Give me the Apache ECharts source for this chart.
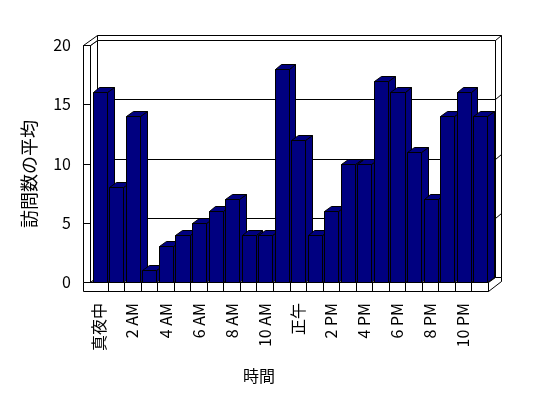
<!DOCTYPE html>
<html><head><meta charset="utf-8">
<script src="https://cdn.jsdelivr.net/npm/echarts@6/dist/echarts.min.js"></script>
<style>html,body{margin:0;padding:0;background:#fff}#c{width:548px;height:398px}</style>
</head><body><div id="c"></div>
<script>
const categories = ['真夜中','1 AM','2 AM','3 AM','4 AM','5 AM','6 AM','7 AM','8 AM','9 AM','10 AM','11 AM','正午','1 PM','2 PM','3 PM','4 PM','5 PM','6 PM','7 PM','8 PM','9 PM','10 PM','11 PM'];
const visits = [16,8,14,1,3,4,5,6,7,4,4,18,12,4,6,10,10,17,16,11,7,14,16,14];
const yTicks = [0,5,10,15,20];
const yAxisTitle = '訪問数の平均';
const xAxisTitle = '時間';

const DX = 6.7, DY = -5;          // one depth unit of the 3D look
const SLAB = 8.5;                 // floor slab thickness
const BAR_RATIO = 0.85;
const FONT = "'Noto Sans CJK JP', 'Noto Sans', sans-serif";
const BAR_COLOR = '#000080';
const px = v => Math.round(v) + 0.5;
const pt = (x, y) => [px(x), px(y)];
const ST = { stroke: '#000', lineWidth: 1 };

function poly(points, fill) {
  return { type: 'polygon', shape: { points: points.map(p => pt(p[0], p[1])) },
           style: Object.assign({ fill: fill }, ST) };
}
function line(x1, y1, x2, y2) {
  return { type: 'line', shape: { x1: px(x1), y1: px(y1), x2: px(x2), y2: px(y2) }, style: ST };
}

function wallsRender(params, api) {
  const bw = api.size([1, 0])[0];
  const yMin = yTicks[0], yMax = yTicks[yTicks.length - 1];
  const L = api.coord([0, yMin])[0] - bw / 2;
  const R = api.coord([categories.length - 1, yMin])[0] + bw / 2;
  const Y0 = api.coord([0, yMin])[1];
  const YT = api.coord([0, yMax])[1];
  const inL = L - 1, outL = inL - DX;
  const FB = Y0 + SLAB;
  const c = [];
  // back wall inner face
  c.push(poly([[inL + DX, YT + DY], [R + DX, YT + DY], [R + DX, Y0 + DY], [inL + DX, Y0 + DY]], '#fff'));
  // gridlines on back wall and right thickness
  yTicks.forEach(v => {
    if (v === yMin || v === yMax) return;
    const y = api.coord([0, v])[1];
    c.push(line(inL + DX, y + DY, R + DX, y + DY));
    c.push(line(R + DX, y + DY, R + 2 * DX, y + 2 * DY));
  });
  // top thickness of back wall
  c.push(poly([[inL + DX, YT + DY], [R + DX, YT + DY], [R + 2 * DX, YT + 2 * DY], [inL + DX, YT + 2 * DY]], '#fff'));
  // right thickness
  c.push(line(R + 2 * DX, YT + 2 * DY, R + 2 * DX, FB + 2 * DY));
  // left wall inner face
  c.push(poly([[inL, YT], [inL + DX, YT + DY], [inL + DX, Y0 + DY], [inL, Y0]], '#fff'));
  // left wall top
  c.push(poly([[outL, YT], [inL, YT], [inL + DX, YT + DY], [inL + DX, YT + 2 * DY]], '#fff'));
  // left wall front face
  c.push(poly([[outL, YT], [inL, YT], [inL, Y0], [outL, Y0]], '#fff'));
  yTicks.forEach(v => {
    const y = api.coord([0, v])[1];
    c.push(line(outL, y, inL, y));
  });
  // floor top
  c.push(poly([[inL, Y0], [R, Y0], [R + DX, Y0 + DY], [inL + DX, Y0 + DY]], '#fff'));
  // floor right side
  c.push(poly([[R, Y0], [R + DX, Y0 + DY], [R + 2 * DX, Y0 + DY], [R + 2 * DX, FB + 2 * DY], [R, FB]], '#fff'));
  c.push(line(R + DX, Y0 + DY, R + DX, YT + DY));
  // floor front slab
  c.push(poly([[outL, Y0], [R, Y0], [R, FB], [outL, FB]], '#fff'));
  for (let k = 1; k < categories.length; k++) {
    const x = L + k * bw;
    c.push(line(x, Y0, x, FB));
  }
  return { type: 'group', children: c };
}

function barRender(params, api) {
  const i = api.value(0), v = api.value(1);
  const bw = api.size([1, 0])[0] * BAR_RATIO;
  const top = api.coord([i, v]);
  const base = api.coord([i, yTicks[0]]);
  const x0 = top[0] - bw / 2 + 0.5, x1 = x0 + bw;
  const yT = top[1], yB = base[1];
  return { type: 'group', children: [
    poly([[x0, yT], [x1, yT], [x1, yB], [x0, yB]], BAR_COLOR),
    poly([[x1, yT], [x1 + DX, yT + DY], [x1 + DX, yB + DY], [x1, yB]], BAR_COLOR),
    poly([[x0, yT], [x1, yT], [x1 + DX, yT + DY], [x0 + DX, yT + DY]], BAR_COLOR)
  ]};
}

const chart = echarts.init(document.getElementById('c'), null, { renderer: 'canvas' });
chart.setOption({
  animation: false,
  backgroundColor: '#fff',
  grid: { left: 91, top: 45, width: 397, height: 237 },
  xAxis: {
    type: 'category', data: categories,
    axisLine: { show: false }, axisTick: { show: false }, splitLine: { show: false },
    axisLabel: { rotate: 90, interval: 1, margin: 21, fontSize: 16, color: '#000', fontFamily: FONT }
  },
  yAxis: {
    type: 'value', min: yTicks[0], max: yTicks[yTicks.length - 1], interval: 5,
    axisLine: { show: false }, axisTick: { show: false }, splitLine: { show: false },
    axisLabel: { margin: 20, fontSize: 16, color: '#000', fontFamily: FONT }
  },
  graphic: [
    { type: 'text', x: 29, y: 174, rotation: Math.PI / 2,
      style: { text: yAxisTitle, font: '18px ' + FONT, fill: '#000', align: 'center', verticalAlign: 'middle' } },
    { type: 'text', x: 259, y: 376,
      style: { text: xAxisTitle, font: '16px ' + FONT, fill: '#000', align: 'center', verticalAlign: 'middle' } }
  ],
  series: [
    { type: 'custom', silent: true, clip: false, z: 1, renderItem: wallsRender, data: [[0, 0]] },
    { type: 'custom', silent: true, clip: false, z: 2, renderItem: barRender,
      data: visits.map((v, i) => [i, v]) }
  ]
});
</script>
</body></html>
